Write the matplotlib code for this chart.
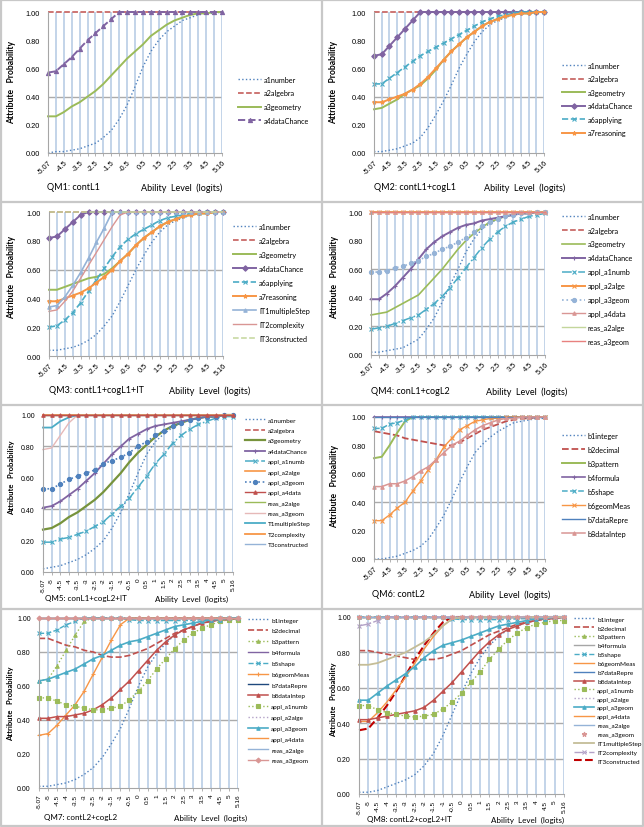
import matplotlib
matplotlib.use('Agg')
import matplotlib.pyplot as plt
from matplotlib.lines import Line2D

W, H = 644, 828
plt.rcParams['font.family'] = ['Lato', 'DejaVu Sans']

cats = ['-5.07', '-5', '-4.5', '-4', '-3.5', '-3', '-2.5', '-2', '-1.5', '-1', '-0.5', '0',
        '0.5', '1', '1.5', '2', '2.5', '3', '3.5', '4', '4.5', '5', '5.16']

flat_top = [1.00, 1.00, 1.00, 1.00, 1.00, 1.00, 1.00, 1.00, 1.00, 1.00, 1.00, 1.00,
            1.00, 1.00, 1.00, 1.00, 1.00, 1.00, 1.00, 1.00, 1.00, 1.00, 1.00]

# QM1
qm1_a1number = [0.00, 0.01, 0.01, 0.02, 0.03, 0.05, 0.07, 0.11, 0.16, 0.24, 0.34, 0.47,
                0.61, 0.72, 0.80, 0.86, 0.90, 0.94, 0.96, 0.98, 0.99, 0.99, 1.00]
qm1_a3geometry = [0.26, 0.26, 0.29, 0.33, 0.36, 0.40, 0.44, 0.49, 0.55, 0.61, 0.67, 0.72,
                  0.77, 0.83, 0.87, 0.91, 0.94, 0.96, 0.98, 0.99, 0.99, 1.00, 1.00]
qm1_a4dataChance = [0.57, 0.58, 0.63, 0.68, 0.74, 0.80, 0.85, 0.90, 0.95, 1.00, 1.00, 1.00,
                    1.00, 1.00, 1.00, 1.00, 1.00, 1.00, 1.00, 1.00, 1.00, 1.00, 1.00]

# QM2
qm2_a1number = [0.01, 0.01, 0.02, 0.03, 0.05, 0.07, 0.11, 0.18, 0.27, 0.37, 0.48, 0.60,
                0.70, 0.79, 0.86, 0.91, 0.94, 0.96, 0.98, 0.99, 0.99, 1.00, 1.00]
qm2_a3geometry = [0.31, 0.32, 0.35, 0.38, 0.42, 0.45, 0.48, 0.53, 0.59, 0.66, 0.72, 0.77,
                  0.82, 0.86, 0.90, 0.93, 0.95, 0.97, 0.98, 0.99, 0.99, 1.00, 1.00]
qm2_a4dataChance = [0.69, 0.70, 0.76, 0.82, 0.88, 0.94, 1.00, 1.00, 1.00, 1.00, 1.00, 1.00,
                    1.00, 1.00, 1.00, 1.00, 1.00, 1.00, 1.00, 1.00, 1.00, 1.00, 1.00]
qm2_a6applying = [0.49, 0.49, 0.53, 0.57, 0.61, 0.65, 0.69, 0.72, 0.75, 0.78, 0.81, 0.84,
                  0.87, 0.90, 0.93, 0.95, 0.97, 0.98, 0.99, 1.00, 1.00, 1.00, 1.00]
qm2_a7reasoning = [0.36, 0.36, 0.38, 0.40, 0.42, 0.45, 0.49, 0.54, 0.60, 0.66, 0.72, 0.77,
                   0.82, 0.86, 0.90, 0.93, 0.95, 0.97, 0.98, 0.99, 0.99, 1.00, 1.00]

# QM3
qm3_a1number = [0.04, 0.04, 0.05, 0.06, 0.08, 0.11, 0.15, 0.21, 0.28, 0.38, 0.49, 0.60,
                0.70, 0.79, 0.86, 0.91, 0.94, 0.96, 0.98, 0.99, 0.99, 1.00, 1.00]
qm3_a3geometry = [0.46, 0.46, 0.48, 0.50, 0.52, 0.54, 0.55, 0.57, 0.61, 0.66, 0.71, 0.77,
                  0.82, 0.86, 0.90, 0.93, 0.95, 0.97, 0.98, 0.99, 0.99, 1.00, 1.00]
qm3_a4dataChance = [0.82, 0.83, 0.88, 0.93, 0.98, 1.00, 1.00, 1.00, 1.00, 1.00, 1.00, 1.00,
                    1.00, 1.00, 1.00, 1.00, 1.00, 1.00, 1.00, 1.00, 1.00, 1.00, 1.00]
qm3_a6applying = [0.20, 0.21, 0.25, 0.30, 0.37, 0.45, 0.53, 0.61, 0.69, 0.76, 0.81, 0.85,
                  0.88, 0.91, 0.94, 0.96, 0.97, 0.98, 0.99, 0.99, 1.00, 1.00, 1.00]
qm3_a7reasoning = [0.38, 0.38, 0.40, 0.42, 0.44, 0.47, 0.51, 0.55, 0.60, 0.66, 0.71, 0.77,
                   0.82, 0.86, 0.90, 0.93, 0.95, 0.97, 0.98, 0.99, 0.99, 1.00, 1.00]
qm3_IT1multipleStep = [0.34, 0.35, 0.41, 0.49, 0.58, 0.68, 0.79, 0.89, 1.00, 1.00, 1.00, 1.00,
                       1.00, 1.00, 1.00, 1.00, 1.00, 1.00, 1.00, 1.00, 1.00, 1.00, 1.00]
qm3_IT2complexity = [0.31, 0.32, 0.38, 0.45, 0.54, 0.63, 0.72, 0.81, 0.90, 0.98, 1.00, 1.00,
                     1.00, 1.00, 1.00, 1.00, 1.00, 1.00, 1.00, 1.00, 1.00, 1.00, 1.00]

# QM4
qm4_a1number = [0.02, 0.02, 0.03, 0.04, 0.05, 0.08, 0.11, 0.18, 0.26, 0.37, 0.49, 0.60,
                0.72, 0.81, 0.88, 0.92, 0.95, 0.97, 0.98, 0.99, 0.99, 1.00, 1.00]
qm4_a3geometry = [0.28, 0.29, 0.30, 0.33, 0.36, 0.39, 0.42, 0.48, 0.54, 0.60, 0.67, 0.74,
                  0.80, 0.85, 0.89, 0.93, 0.95, 0.97, 0.98, 0.99, 0.99, 1.00, 1.00]
qm4_a4dataChance = [0.39, 0.39, 0.43, 0.48, 0.54, 0.60, 0.67, 0.74, 0.79, 0.83, 0.86, 0.89,
                    0.91, 0.92, 0.94, 0.95, 0.96, 0.97, 0.98, 0.99, 0.99, 1.00, 1.00]
qm4_appl_a1numb = [0.18, 0.19, 0.20, 0.22, 0.24, 0.26, 0.28, 0.32, 0.36, 0.41, 0.47, 0.54,
                   0.61, 0.68, 0.75, 0.81, 0.86, 0.90, 0.93, 0.95, 0.97, 0.98, 0.99]
qm4_appl_a3geom = [0.58, 0.58, 0.59, 0.61, 0.62, 0.64, 0.66, 0.69, 0.71, 0.74, 0.76, 0.79,
                   0.82, 0.86, 0.90, 0.93, 0.95, 0.97, 0.98, 0.99, 0.99, 1.00, 1.00]

# QM5
qm5_a1number = [0.02, 0.03, 0.04, 0.06, 0.08, 0.11, 0.15, 0.20, 0.28, 0.38, 0.50, 0.63,
                0.75, 0.83, 0.88, 0.92, 0.95, 0.97, 0.98, 0.99, 0.99, 1.00, 1.00]
qm5_a3geometry = [0.27, 0.28, 0.31, 0.35, 0.38, 0.42, 0.46, 0.51, 0.57, 0.63, 0.70, 0.76,
                  0.81, 0.86, 0.90, 0.93, 0.95, 0.97, 0.98, 0.99, 0.99, 1.00, 1.00]
qm5_a4dataChance = [0.41, 0.42, 0.45, 0.49, 0.53, 0.58, 0.63, 0.69, 0.75, 0.80, 0.85, 0.88,
                    0.91, 0.93, 0.94, 0.95, 0.96, 0.97, 0.98, 0.99, 0.99, 1.00, 1.00]
qm5_appl_a1numb = [0.19, 0.19, 0.21, 0.22, 0.24, 0.26, 0.29, 0.32, 0.37, 0.42, 0.47, 0.54,
                   0.61, 0.69, 0.75, 0.82, 0.87, 0.91, 0.94, 0.96, 0.98, 0.99, 0.99]
qm5_appl_a3geom = [0.53, 0.53, 0.56, 0.59, 0.61, 0.63, 0.65, 0.69, 0.71, 0.73, 0.76, 0.80,
                   0.83, 0.87, 0.90, 0.93, 0.95, 0.97, 0.98, 0.99, 0.99, 1.00, 1.00]
qm5_reas_a3geom = [0.78, 0.79, 0.87, 0.95, 1.00, 1.00, 1.00, 1.00, 1.00, 1.00, 1.00, 1.00,
                   1.00, 1.00, 1.00, 1.00, 1.00, 1.00, 1.00, 1.00, 1.00, 1.00, 1.00]
qm5_T1multipleStep = [0.92, 0.92, 0.96, 0.985, 1.00, 1.00, 1.00, 1.00, 1.00, 1.00, 1.00, 1.00,
                      1.00, 1.00, 1.00, 1.00, 1.00, 1.00, 1.00, 1.00, 1.00, 1.00, 1.00]

# QM6
qm6_b1integer = [0.00, 0.00, 0.01, 0.02, 0.04, 0.06, 0.09, 0.14, 0.22, 0.31, 0.42, 0.54,
                 0.65, 0.75, 0.81, 0.86, 0.90, 0.93, 0.96, 0.97, 0.98, 0.99, 0.99]
qm6_b2decimal = [0.90, 0.89, 0.88, 0.87, 0.85, 0.84, 0.83, 0.82, 0.81, 0.80, 0.80, 0.82,
                 0.85, 0.88, 0.91, 0.93, 0.95, 0.97, 0.98, 0.99, 0.99, 1.00, 1.00]
qm6_b3pattern = [0.71, 0.72, 0.80, 0.89, 0.97, 1.00, 1.00, 1.00, 1.00, 1.00, 1.00, 1.00,
                 1.00, 1.00, 1.00, 1.00, 1.00, 1.00, 1.00, 1.00, 1.00, 1.00, 1.00]
qm6_b5shape = [0.92, 0.92, 0.95, 0.96, 0.98, 1.00, 1.00, 1.00, 1.00, 1.00, 1.00, 1.00,
               1.00, 1.00, 1.00, 1.00, 1.00, 1.00, 1.00, 1.00, 1.00, 1.00, 1.00]
qm6_b6geomMeas = [0.27, 0.27, 0.31, 0.36, 0.40, 0.48, 0.55, 0.63, 0.70, 0.79, 0.85, 0.91,
                  0.94, 0.97, 0.98, 0.99, 0.99, 1.00, 1.00, 1.00, 1.00, 1.00, 1.00]
qm6_b8dataIntep = [0.51, 0.51, 0.53, 0.53, 0.55, 0.58, 0.62, 0.65, 0.70, 0.75, 0.80, 0.83,
                   0.87, 0.91, 0.94, 0.96, 0.98, 0.99, 0.99, 1.00, 1.00, 1.00, 1.00]

# QM7
qm7_b1integer = [0.01, 0.01, 0.02, 0.03, 0.05, 0.08, 0.12, 0.18, 0.26, 0.35, 0.47, 0.60,
                 0.71, 0.79, 0.85, 0.90, 0.93, 0.95, 0.97, 0.98, 0.99, 0.99, 1.00]
qm7_b2decimal = [0.88, 0.88, 0.86, 0.84, 0.83, 0.81, 0.80, 0.78, 0.77, 0.77, 0.78, 0.80,
                 0.82, 0.85, 0.88, 0.91, 0.93, 0.95, 0.97, 0.98, 0.99, 0.99, 1.00]
qm7_b3pattern = [0.63, 0.64, 0.72, 0.81, 0.90, 0.98, 1.00, 1.00, 1.00, 1.00, 1.00, 1.00,
                 1.00, 1.00, 1.00, 1.00, 1.00, 1.00, 1.00, 1.00, 1.00, 1.00, 1.00]
qm7_b5shape = [0.91, 0.91, 0.93, 0.96, 0.98, 1.00, 1.00, 1.00, 1.00, 1.00, 0.99, 0.985,
               0.985, 0.985, 0.985, 0.985, 0.985, 0.985, 0.99, 0.99, 1.00, 1.00, 1.00]
qm7_b6geomMeas = [0.31, 0.32, 0.37, 0.43, 0.49, 0.57, 0.67, 0.77, 0.87, 0.96, 1.00, 1.00,
                  1.00, 1.00, 1.00, 1.00, 1.00, 1.00, 1.00, 1.00, 1.00, 1.00, 1.00]
qm7_b8dataIntep = [0.41, 0.41, 0.42, 0.42, 0.43, 0.44, 0.46, 0.49, 0.53, 0.58, 0.63, 0.69,
                   0.75, 0.81, 0.86, 0.90, 0.93, 0.95, 0.97, 0.98, 0.99, 0.99, 1.00]
qm7_appl_a1numb = [0.53, 0.53, 0.51, 0.49, 0.48, 0.47, 0.46, 0.46, 0.47, 0.48, 0.52, 0.57,
                   0.63, 0.70, 0.76, 0.82, 0.87, 0.91, 0.94, 0.96, 0.98, 0.99, 0.99]
qm7_appl_a3geom = [0.63, 0.64, 0.66, 0.68, 0.70, 0.73, 0.76, 0.78, 0.81, 0.84, 0.86, 0.87,
                   0.89, 0.91, 0.93, 0.95, 0.96, 0.97, 0.98, 0.99, 0.99, 1.00, 1.00]

# QM8
qm8_b1integer = [0.01, 0.01, 0.02, 0.04, 0.06, 0.08, 0.11, 0.16, 0.23, 0.33, 0.45, 0.57,
                 0.68, 0.77, 0.84, 0.89, 0.93, 0.95, 0.97, 0.98, 0.99, 0.99, 1.00]
qm8_b2decimal = [0.81, 0.81, 0.80, 0.79, 0.78, 0.77, 0.76, 0.76, 0.76, 0.77, 0.79, 0.81,
                 0.84, 0.87, 0.90, 0.92, 0.94, 0.96, 0.97, 0.98, 0.99, 0.99, 1.00]
qm8_b5shape = [1.00, 1.00, 1.00, 1.00, 1.00, 1.00, 1.00, 1.00, 1.00, 1.00, 0.99, 0.985,
               0.985, 0.985, 0.985, 0.985, 0.985, 0.99, 0.99, 1.00, 1.00, 1.00, 1.00]
qm8_b6geomMeas = [0.41, 0.41, 0.46, 0.52, 0.59, 0.66, 0.74, 0.82, 0.89, 0.95, 0.99, 1.00,
                  1.00, 1.00, 1.00, 1.00, 1.00, 1.00, 1.00, 1.00, 1.00, 1.00, 1.00]
qm8_b8dataIntep = [0.42, 0.42, 0.43, 0.44, 0.45, 0.46, 0.47, 0.49, 0.53, 0.58, 0.63, 0.69,
                   0.75, 0.81, 0.86, 0.90, 0.93, 0.95, 0.97, 0.98, 0.99, 0.99, 1.00]
qm8_appl_a1numb = [0.50, 0.50, 0.475, 0.46, 0.45, 0.44, 0.435, 0.44, 0.45, 0.48, 0.52, 0.57,
                   0.63, 0.69, 0.76, 0.82, 0.87, 0.91, 0.94, 0.96, 0.97, 0.98, 0.98]
qm8_appl_a3geom = [0.53, 0.53, 0.57, 0.61, 0.645, 0.68, 0.72, 0.77, 0.81, 0.84, 0.855, 0.87,
                   0.89, 0.91, 0.93, 0.95, 0.96, 0.97, 0.98, 0.99, 0.99, 1.00, 1.00]
qm8_IT1multipleStep = [0.73, 0.73, 0.74, 0.76, 0.78, 0.80, 0.83, 0.86, 0.90, 0.95, 0.99, 1.00,
                       1.00, 1.00, 1.00, 1.00, 1.00, 1.00, 1.00, 1.00, 1.00, 1.00, 1.00]
qm8_IT2complexity = [0.95, 0.96, 0.98, 1.00, 1.00, 1.00, 1.00, 1.00, 1.00, 1.00, 1.00, 1.00,
                     1.00, 1.00, 1.00, 1.00, 1.00, 1.00, 1.00, 1.00, 1.00, 1.00, 1.00]
qm8_IT3constructed = [0.36, 0.37, 0.43, 0.50, 0.58, 0.67, 0.76, 0.84, 0.91, 0.97, 1.00, 1.00,
                      1.00, 1.00, 1.00, 1.00, 1.00, 1.00, 1.00, 1.00, 1.00, 1.00, 1.00]

# excel 2007 palette
BLUE, RED, GREEN, PURPLE = '#4F81BD', '#C0504D', '#9BBB59', '#8064A2'
AQUA, ORANGE, LBLUE, PINK = '#4BACC6', '#F79646', '#95B3D7', '#D99694'
LGREEN, LPURPLE, LPINK, OLIVE = '#C3D69B', '#B3A2C7', '#E6B9B8', '#77933C'
TAN, DRED, NAVY, SALMON = '#C4BD97', '#C00000', '#1F497D', '#E8817F'


def st(color, ls='-', lw=1.0, marker=None, ms=3.0, z=2):
    d = dict(color=color, ls=ls, lw=lw, zorder=z)
    if marker:
        d.update(marker=marker, ms=ms, mew=0.8)
    return d


dot = st(BLUE, ':', 1.0)
red_dash = st(RED, '--', 1.1)

panels = [
    dict(box=(48, 13, 222, 154), title='QM1: contL1', tpos=(47, 188), apos=(222, 188),
         ypos=(12, 82), leg=(238, 81), pitch=15.0, hgrid=[0.4], dense=False,
         series=[('a1number', qm1_a1number, dot),
                 ('a2algebra', flat_top, red_dash),
                 ('a3geometry', qm1_a3geometry, st(GREEN, '-', 1.4)),
                 ('a4dataChance', qm1_a4dataChance, st(PURPLE, '--', 1.4, '^', 3))]),
    dict(box=(374, 13, 544, 154), title='QM2: contL1+cogL1', tpos=(374, 188), apos=(565, 188),
         ypos=(334, 82), leg=(562, 67), pitch=14.8, hgrid=[0.4], dense=False,
         series=[('a1number', qm2_a1number, dot),
                 ('a2algebra', flat_top, red_dash),
                 ('a3geometry', qm2_a3geometry, st(GREEN, '-', 1.4)),
                 ('a4dataChance', qm2_a4dataChance, st(PURPLE, '-', 1.4, 'D', 2.8)),
                 ('a6applying', qm2_a6applying, st(AQUA, '--', 1.2, 'x', 3.5)),
                 ('a7reasoning', qm2_a7reasoning, st(ORANGE, '-', 1.4, '*', 3))]),
    dict(box=(49, 213, 223, 357), title='QM3: contL1+cogL1+IT', tpos=(49, 391), apos=(250, 391),
         ypos=(12, 278), leg=(233, 228), pitch=15.3, hgrid=[0.6], dense=False,
         series=[('a1number', qm3_a1number, dot),
                 ('a2algebra', flat_top, red_dash),
                 ('a3geometry', qm3_a3geometry, st(GREEN, '-', 1.4)),
                 ('a4dataChance', qm3_a4dataChance, st(PURPLE, '-', 1.4, 'D', 2.8)),
                 ('a6applying', qm3_a6applying, st(AQUA, '--', 1.2, 'x', 3.5)),
                 ('a7reasoning', qm3_a7reasoning, st(ORANGE, '-', 1.4, '*', 3)),
                 ('IT1multipleStep', qm3_IT1multipleStep, st(LBLUE, '-', 1.2, '^', 2.5)),
                 ('IT2complexity', qm3_IT2complexity, st(PINK, '-', 1.0)),
                 ('IT3constructed', flat_top, st(LGREEN, '--', 1.1))]),
    dict(box=(371, 213, 545, 356), title='QM4: conL1+cogL2', tpos=(371, 392), apos=(567, 392),
         ypos=(335, 278), leg=(562, 218), pitch=15.2, hgrid=[0.6, 0.2], dense=False,
         series=[('a1number', qm4_a1number, dot),
                 ('a2algebra', flat_top, red_dash),
                 ('a3geometry', qm4_a3geometry, st(GREEN, '-', 1.2)),
                 ('a4dataChance', qm4_a4dataChance, st(PURPLE, '-', 1.4, '+', 3)),
                 ('appl_a1numb', qm4_appl_a1numb, st(AQUA, '-.', 1.1, 'x', 3.5)),
                 ('appl_a2alge', flat_top, st(ORANGE, '-', 1.4, 'x', 3)),
                 ('appl_a3geom', qm4_appl_a3geom, st(LBLUE, ':', 1.2, 'o', 3)),
                 ('appl_a4data', flat_top, st(PINK, '-', 1.0, '^', 2.5)),
                 ('reas_a2alge', flat_top, st(LGREEN, '-', 1.0)),
                 ('reas_a3geom', flat_top, st(SALMON, '-', 1.0))]),
    dict(box=(43, 416, 233, 573), title='QM5: conL1+cogL2+IT', tpos=(45, 599), apos=(228, 599),
         ypos=(12, 478), leg=(245, 422), pitch=12.25, hgrid=[0.8, 0.4], dense=True,
         series=[('a1number', qm5_a1number, dot),
                 ('a2algebra', flat_top, red_dash),
                 ('a3geometry', qm5_a3geometry, st(OLIVE, '-', 1.6)),
                 ('a4dataChance', qm5_a4dataChance, st(PURPLE, '-', 1.3, '+', 3)),
                 ('appl_a1numb', qm5_appl_a1numb, st(AQUA, '-.', 1.1, 'x', 3.5)),
                 ('appl_a2alge', flat_top, st(ORANGE, '-', 1.2)),
                 ('appl_a3geom', qm5_appl_a3geom, st(BLUE, ':', 1.2, 'o', 3)),
                 ('appl_a4data', flat_top, st(RED, '-', 1.0, '^', 2.5, z=3)),
                 ('reas_a2alge', flat_top, st(GREEN, '-', 1.0)),
                 ('reas_a3geom', qm5_reas_a3geom, st(LPINK, '-', 1.0)),
                 ('T1multipleStep', qm5_T1multipleStep, st(AQUA, '-', 1.3)),
                 ('T2complexity', flat_top, st(ORANGE, '-', 1.3)),
                 ('T3constructed', flat_top, st(LBLUE, '-', 1.0))]),
    dict(box=(374, 418, 545, 560), title='QM6: contL2', tpos=(372, 595), apos=(550, 595),
         ypos=(335, 487), leg=(562, 437), pitch=15.3, hgrid=[0.4], dense=False,
         series=[('b1integer', qm6_b1integer, dot),
                 ('b2decimal', qm6_b2decimal, st(RED, '--', 1.3)),
                 ('b3pattern', qm6_b3pattern, st(GREEN, '-', 1.4)),
                 ('b4formula', flat_top, st(PURPLE, '-', 1.2, '+', 3)),
                 ('b5shape', qm6_b5shape, st(AQUA, '--', 1.1, 'x', 3.5)),
                 ('b6geomMeas', qm6_b6geomMeas, st(ORANGE, '-', 1.0, 'x', 3.5)),
                 ('b7dataRepre', flat_top, st(BLUE, '-', 1.0)),
                 ('b8dataIntep', qm6_b8dataIntep, st(PINK, '-', 1.1, '^', 2.5))]),
    dict(box=(39, 619, 238, 789), title='QM7: contL2+cogL2', tpos=(44, 818), apos=(247, 818),
         ypos=(11, 704), leg=(248, 622), pitch=12.7, hgrid=[0.4, 0.8], dense=True,
         series=[('b1integer', qm7_b1integer, dot),
                 ('b2decimal', qm7_b2decimal, st(RED, '--', 1.2)),
                 ('b3pattern', qm7_b3pattern, st(GREEN, ':', 1.0, '^', 2.5)),
                 ('b4formula', flat_top, st(PURPLE, '-', 1.0)),
                 ('b5shape', qm7_b5shape, st(AQUA, '--', 1.0, 'x', 3.5)),
                 ('b6geomMeas', qm7_b6geomMeas, st(ORANGE, '-', 1.0, '+', 2.5)),
                 ('b7dataRepre', flat_top, st(NAVY, '-', 1.0)),
                 ('b8dataIntep', qm7_b8dataIntep, st(RED, '-', 1.1, '^', 2.5)),
                 ('appl_a1numb', qm7_appl_a1numb, st(GREEN, ':', 1.0, 's', 2.8)),
                 ('appl_a2alge', flat_top, st(LPURPLE, ':', 1.0)),
                 ('appl_a3geom', qm7_appl_a3geom, st(AQUA, '-', 1.2, '^', 2.5)),
                 ('appl_a4data', flat_top, st(ORANGE, '-', 1.0)),
                 ('reas_a2alge', flat_top, st(LBLUE, '-', 1.0)),
                 ('reas_a3geom', flat_top, st(PINK, '-', 1.0, 'D', 2.5, z=3))]),
    dict(box=(359, 618, 564, 795), title='QM8: contL2+cogL2+IT', tpos=(367, 820), apos=(564, 820),
         ypos=(334, 700), leg=(574, 621), pitch=10.75, hgrid=[0.2, 0.4, 0.6, 0.8], dense=True,
         series=[('b1integer', qm8_b1integer, dot),
                 ('b2decimal', qm8_b2decimal, st(RED, '--', 1.2)),
                 ('b3pattern', flat_top, st(GREEN, ':', 1.0, '^', 2.5)),
                 ('b4formula', flat_top, st('#A6A6A6', '-', 1.0)),
                 ('b5shape', qm8_b5shape, st(AQUA, '--', 1.0, 'x', 3.5)),
                 ('b6geomMeas', qm8_b6geomMeas, st(ORANGE, '-', 1.0)),
                 ('b7dataRepre', flat_top, st(BLUE, '-', 1.0)),
                 ('b8dataIntep', qm8_b8dataIntep, st(RED, '-', 1.1, '^', 2.5)),
                 ('appl_a1numb', qm8_appl_a1numb, st(GREEN, ':', 1.0, 's', 2.8)),
                 ('appl_a2alge', flat_top, st(LPURPLE, ':', 1.0)),
                 ('appl_a3geom', qm8_appl_a3geom, st(AQUA, '-', 1.2, '^', 2.5)),
                 ('appl_a4data', flat_top, st(ORANGE, '-', 1.0)),
                 ('reas_a2alge', flat_top, st(LBLUE, '-', 1.0)),
                 ('reas_a3geom', flat_top, st(PINK, 'None', 1.0, '*', 3.5, z=3)),
                 ('IT1multipleStep', qm8_IT1multipleStep, st(TAN, '-', 1.3)),
                 ('IT2complexity', qm8_IT2complexity, st(LPURPLE, '-.', 1.0, 'x', 3)),
                 ('IT3constructed', qm8_IT3constructed, st(DRED, '--', 1.5, z=1.9))]),
]


def fx(px):
    return px / W


def fy(py):
    return 1 - py / H


TICKFONT = 'Liberation Sans'

fig = plt.figure(figsize=(W / 100, H / 100), dpi=100)

for p in panels:
    x0, y0, x1, y1 = p['box']
    ax = fig.add_axes([fx(x0), fy(y1), fx(x1) - fx(x0), fy(y0) - fy(y1)])
    handles = []
    for name, vals, sty in p['series']:
        ln, = ax.plot(cats, vals, label=name, clip_on=False, **sty)
        handles.append(ln)
    ax.set_xlim(0, len(cats) - 1)
    ax.set_ylim(0, 1)

    # category axis: every label on the dense ones, every other one on the rest
    ax.set_xticks(range(len(cats)))
    if p['dense']:
        ax.set_xticklabels(cats, rotation=90, fontsize=4.6, family=TICKFONT)
    else:
        ax.set_xticklabels([c if i % 2 == 0 else '' for i, c in enumerate(cats)],
                           rotation=45, ha='right', va='top', rotation_mode='anchor',
                           fontsize=5.3, family=TICKFONT)
    yv = [0, 0.2, 0.4, 0.6, 0.8, 1.0]
    ax.set_yticks(yv)
    ax.set_yticklabels(['%.2f' % v for v in yv], fontsize=5.0 if p['dense'] else 5.3,
                       family=TICKFONT)
    ax.tick_params(axis='x', length=2, width=0.6, color='#A6A6A6', pad=2)
    ax.tick_params(axis='y', length=0, pad=6)

    ax.grid(axis='x', color='#B9CDE5', lw=1.2)
    ax.set_axisbelow(True)
    for lvl in p['hgrid']:
        ax.axhline(lvl, color='#ABABAB', lw=1.0, zorder=0.5)
    for s in ['top', 'right']:
        ax.spines[s].set_visible(False)
    for s in ['left', 'bottom']:
        ax.spines[s].set_color('#A6A6A6')
        ax.spines[s].set_linewidth(0.8)

    lfs = 4.6 if p['dense'] else 5.2
    fpx = lfs * 100 / 72
    lx, ly = p['leg']
    ax.legend(handles=handles, loc='upper left',
              bbox_to_anchor=(fx(lx), fy(ly - 0.6 * fpx)), bbox_transform=fig.transFigure,
              frameon=False, fontsize=lfs, handlelength=3.2, handletextpad=0.4,
              borderpad=0, borderaxespad=0, labelspacing=max(p['pitch'] / fpx - 1.15, 0.1))

    tfs = 5.8 if p['dense'] else 6.5
    fig.text(fx(p['tpos'][0]), fy(p['tpos'][1]), p['title'], fontsize=tfs, va='center', ha='left')
    fig.text(fx(p['apos'][0]), fy(p['apos'][1]), 'Ability  Level  (logits)', fontsize=tfs,
             va='center', ha='right')
    fig.text(fx(p['ypos'][0]), fy(p['ypos'][1]), 'Attribute   Probability', fontsize=tfs - 0.3,
             fontweight='bold', rotation=90, va='center', ha='center')

# cell borders of the screenshot grid
border = dict(color='#C8C8C8', lw=1.6, transform=fig.transFigure)
fig.add_artist(Line2D([fx(322), fx(322)], [0, 1], **border))
for yb in [203, 406, 610]:
    fig.add_artist(Line2D([0, 1], [fy(yb), fy(yb)], **border))
fig.add_artist(Line2D([fx(1), fx(643), fx(643), fx(1), fx(1)],
                      [fy(1), fy(1), fy(827), fy(827), fy(1)], **border))

fig.savefig('out.png', dpi=100, facecolor='white')
